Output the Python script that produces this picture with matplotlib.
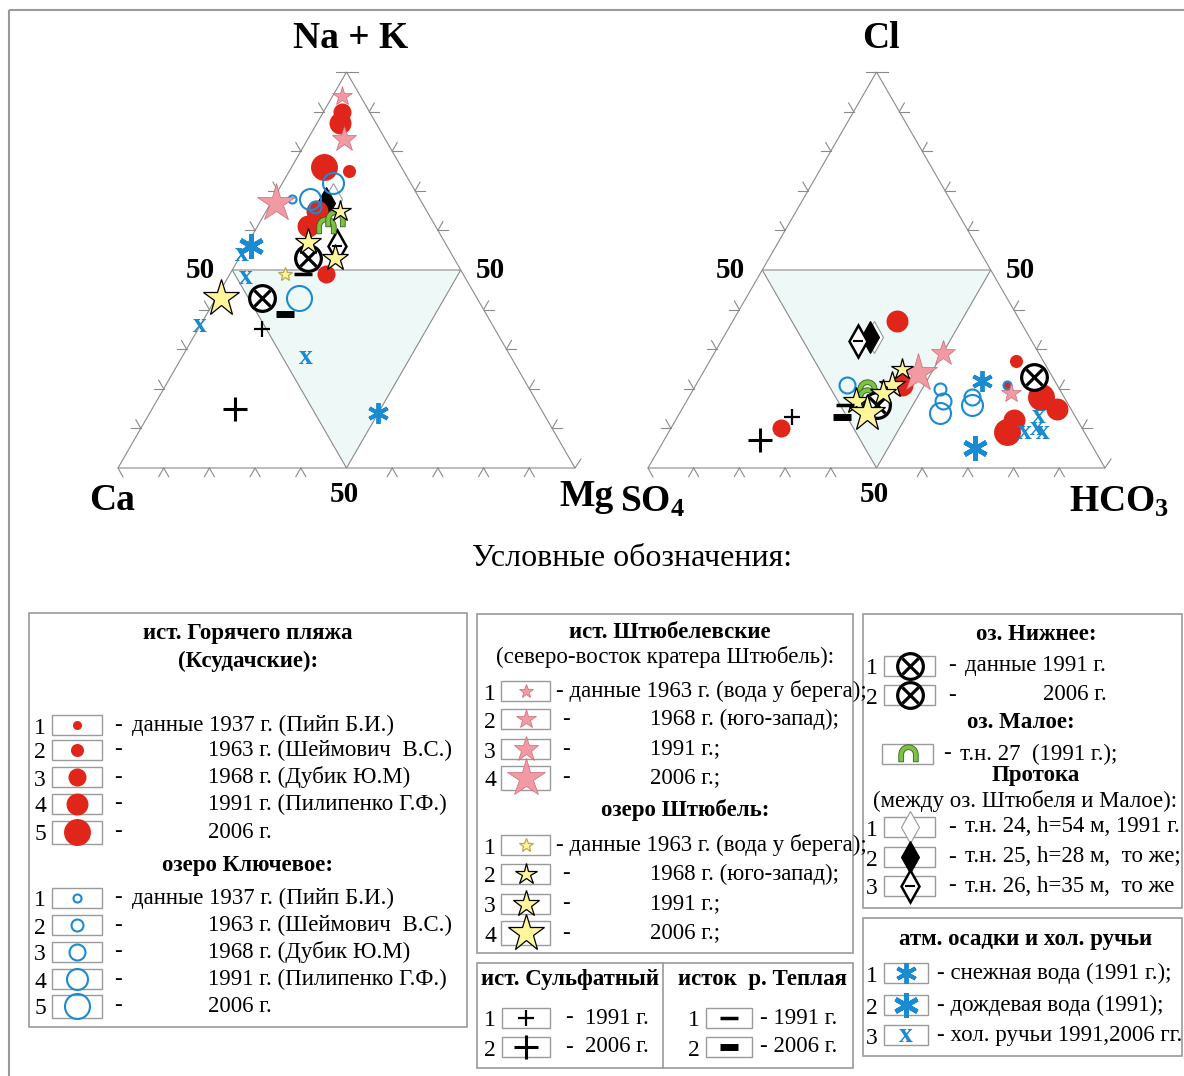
import matplotlib.pyplot as plt
import numpy as np
from matplotlib.path import Path
from matplotlib.patches import Polygon, Rectangle

plt.rcParams['font.family'] = ['Liberation Serif', 'DejaVu Serif']
plt.rcParams['mathtext.fontset'] = 'custom'
plt.rcParams['mathtext.rm'] = 'Liberation Serif:bold'

# ---------------- data (% eq) ----------------
# cations: Na+K (top), Mg (right), Ca = 100 - rest
# anions:  Cl (top), HCO3 (right), SO4 = 100 - rest
# year index for sized symbols: 0..4 -> 1937, 1963, 1968, 1991, 2006

# ист. Горячего пляжа
hot_nak = [75, 90, 87, 76, 65, 61, 49]
hot_mg = [13, 4, 5, 7, 11, 11, 21]
hot_yr_c = [1, 2, 3, 4, 3, 3, 2]
hot_cl = [37, 27, 21, 18, 15, 12, 9, 10, 21]
hot_hco3 = [36, 67, 68, 77, 82, 74, 74, 24, 45]
hot_yr_a = [3, 1, 0, 4, 3, 3, 4, 2, 3]

# озеро Ключевое
kl_nak = [68, 68, 66, 72, 43]
kl_mg = [4, 8, 10, 11, 18]
kl_yr_c = [0, 3, 1, 3, 4]
kl_cl = [21, 20, 17, 14, 18, 16, 21]
kl_hco3 = [33, 54, 56, 57, 62, 63, 68]
kl_yr_a = [2, 1, 2, 3, 2, 3, 0]

# ист. Штюбелевские (1963, 1968, 1991, 2006 -> 0..3)
shs_nak = [94, 83, 67]
shs_mg = [2, 8, 1]
shs_yr_c = [1, 2, 3]
shs_cl = [29, 24, 19]
shs_hco3 = [50, 47, 70]
shs_yr_a = [2, 3, 1]

# озеро Штюбель
shl_nak = [49, 65, 57, 53, 43]
shl_mg = [12, 16, 13, 21, 1]
shl_yr_c = [0, 1, 2, 2, 3]
shl_cl = [25, 21, 19, 17, 14]
shl_hco3 = [43, 43, 42, 37, 41]
shl_yr_a = [1, 2, 2, 2, 3]

# оз. Нижнее (1991, 2006)
low_nak = [53, 43]
low_mg = [15, 10]
low_cl = [23, 16]
low_hco3 = [73, 42]

# оз. Малое, т.н. 27
mal_nak = [61, 63]
mal_mg = [15, 16]
mal_cl = [20, 18]
mal_hco3 = [38, 39]

# Протока, т.н. 24, 25, 26
pr_nak = [68, 67, 56]
pr_mg = [13, 12, 20]
pr_cl = [33, 33, 32]
pr_hco3 = [33, 32, 30]

# ист. Сульфатный (1991, 2006)
sul_nak = [35, 15]
sul_mg = [14, 18]
sul_cl = [13, 7]
sul_hco3 = [25, 21]

# исток р. Теплая (1991, 2006)
tep_nak = [49, 39]
tep_mg = [16, 17]
tep_cl = [16, 13]
tep_hco3 = [35, 36]

# атм. осадки: снег, дождь
atm_nak = [14, 56]
atm_mg = [50, 1]
atm_cl = [22, 5]
atm_hco3 = [62, 69]

# хол. ручьи
cold_nak = [54, 48, 36, 28]
cold_mg = [0, 4, 0, 27]
cold_cl = [13, 10, 9, 9]
cold_hco3 = [79, 80, 82, 78]

# ---------------- styles ----------------
RED = '#e0251b'
BLUE = '#1a8bd2'
PINK = '#f29aa3'
YEL = '#fff69a'
GREEN = '#7cc142'
LINE = '#8a8a8a'

red_ms = [6.5, 9.4, 13, 15.8, 19.4]
blue_ms = [5.8, 8.6, 11.5, 15.1, 18]
pink_ms = [10, 14.4, 18.7, 28.8]
yel_ms = [10, 16, 20, 28]

theta = np.linspace(0, np.pi, 16)
arch = np.vstack([np.c_[np.cos(theta), np.sin(theta)],
                  [[-1, -0.75], [-0.5, -0.75], [-0.5, 0]],
                  np.c_[0.5 * np.cos(theta[::-1]), 0.5 * np.sin(theta[::-1])],
                  [[0.5, -0.75], [1, -0.75], [1, 0]]])
ARCH = Path(arch, closed=True)

fig = plt.figure(figsize=(11.84, 10.76), dpi=100)
ax = fig.add_axes([0, 0, 1, 1])
ax.set_xlim(0, 1184)
ax.set_ylim(1076, 0)
ax.axis('off')

W, H, BASE = 457, 396, 468
LX, RX = 118, 648


def tern(x0, top, right):
    top = np.asarray(top, float)
    right = np.asarray(right, float)
    return x0 + W * (right + top / 2) / 100, BASE - H * top / 100


def draw_tri(x0):
    a = np.array([x0, BASE]); b = np.array([x0 + W, BASE]); c = np.array([x0 + W / 2, BASE - H])
    ml, mr, mb = (a + c) / 2, (b + c) / 2, (a + b) / 2
    ax.add_patch(Polygon([ml, mr, mb], closed=True, fc='#eef8f7', ec=LINE, lw=0.8, zorder=0))
    ax.add_patch(Polygon([a, b, c], closed=True, fill=False, ec=LINE, lw=0.8, zorder=1))
    L = 10
    s, k = 0.5, 0.866
    for t in np.arange(0.1, 0.95, 0.1):
        if abs(t - 0.5) < 1e-6:
            continue
        p = a + (b - a) * t
        for d in [(-s, k), (s, k)]:
            ax.plot([p[0], p[0] + L * d[0]], [p[1], p[1] + L * d[1]], color=LINE, lw=0.8)
        p = a + (c - a) * t
        for d in [(-1, 0), (-s, -k)]:
            ax.plot([p[0], p[0] + L * d[0]], [p[1], p[1] + L * d[1]], color=LINE, lw=0.8)
        p = b + (c - b) * t
        for d in [(1, 0), (s, -k)]:
            ax.plot([p[0], p[0] + L * d[0]], [p[1], p[1] + L * d[1]], color=LINE, lw=0.8)
    ax.plot([c[0] - 11, c[0] + 11], [c[1], c[1]], color=LINE, lw=0.8)
    ax.plot([a[0], a[0] + 5], [a[1], a[1] + 9], color=LINE, lw=0.8)
    ax.plot([b[0], b[0] + 6], [b[1], b[1] - 9], color=LINE, lw=0.8)
    return ml, mr, mb


# ---------------- symbol painters ----------------
def m_red(x, y, i):
    ax.plot(x, y, 'o', ms=red_ms[i], mfc=RED, mec=RED, mew=0, zorder=3)


def m_blue(x, y, i):
    ax.plot(x, y, 'o', ms=blue_ms[i], mfc='none', mec=BLUE, mew=1.5, zorder=4)


def m_pink(x, y, i):
    ax.plot(x, y, '*', ms=pink_ms[i], mfc=PINK, mec='#c96b78', mew=0.5, zorder=5)


def m_yel(x, y, i):
    ec = '#b5a85a' if i == 0 else 'black'
    ax.plot(x, y, '*', ms=yel_ms[i], mfc=YEL, mec=ec, mew=0.9, zorder=8.5)


def m_low(x, y, i=0):
    ax.plot(x, y, 'o', ms=18.5, mfc='white', mec='black', mew=2.3, zorder=8)
    ax.plot(x, y, 'x', ms=11, mec='black', mew=2.3, zorder=8)


def m_mal(x, y, i=0):
    ax.plot(x, y, marker=ARCH, ms=14, mfc=GREEN, mec='#3a5a20', mew=0.6, ls='none', zorder=7)


def m_pr(x, y, i):
    if i == 0:
        ax.plot(x, y, 'd', ms=16, mfc='white', mec='#999999', mew=0.8, zorder=2.5)
    elif i == 1:
        ax.plot(x, y, 'd', ms=16, mfc='black', mec='black', mew=0.8, zorder=2.5)
    else:
        ax.plot(x, y, 'd', ms=16, mfc='white', mec='black', mew=1.8, zorder=2.5)
        ax.plot(x, y, '_', ms=7, mec='black', mew=1.5, zorder=2.5)


def m_sul(x, y, i):
    ax.plot(x, y, '+', ms=[12, 17][i], mec='black', mew=[1.6, 2.2][i], zorder=9)


def m_tep(x, y, i):
    ax.plot(x, y, '_', ms=13, mec='black', mew=[2.5, 5][i], zorder=9, solid_capstyle='butt')


def m_atm(x, y, i):
    ax.plot(x, y, marker=(6, 2, 0), ms=[15, 18][i], mec=BLUE, mew=[2.8, 3.4][i], zorder=9)


def m_cold(x, y, i=0):
    ax.text(x, y, 'x', color=BLUE, fontsize=20, fontweight='bold', ha='center', va='center', zorder=9)


# ---------------- triangles ----------------
for x0, lab_top in [(LX, 'Na + K'), (RX, 'Cl')]:
    ml, mr, mb = draw_tri(x0)
    ax.text(ml[0] - 32, ml[1] + 1, '50', fontsize=21, fontweight='bold', ha='center', va='center')
    ax.text(mr[0] + 30, mr[1] + 1, '50', fontsize=21, fontweight='bold', ha='center', va='center')
    ax.text(mb[0] - 2, mb[1] + 27, '50', fontsize=21, fontweight='bold', ha='center', va='center')
    ax.text(x0 + W / 2 + 4, 38, lab_top, fontsize=27, fontweight='bold', ha='center', va='center')

ax.text(112, 500, 'Ca', fontsize=27, fontweight='bold', ha='center', va='center')
ax.text(586, 497, 'Mg', fontsize=27, fontweight='bold', ha='center', va='center')
ax.text(652, 502, r'$\mathrm{SO_4}$', fontsize=27, ha='center', va='center')
ax.text(1119, 502, r'$\mathrm{HCO_3}$', fontsize=27, ha='center', va='center')

# cations
for x, y, i in zip(*tern(LX, hot_nak, hot_mg), hot_yr_c):
    m_red(x, y, i)
for x, y, i in zip(*tern(LX, kl_nak, kl_mg), kl_yr_c):
    m_blue(x, y, i)
for x, y, i in zip(*tern(LX, shs_nak, shs_mg), shs_yr_c):
    m_pink(x, y, i)
for x, y, i in zip(*tern(LX, pr_nak, pr_mg), range(3)):
    m_pr(x, y, i)
for x, y, i in zip(*tern(LX, shl_nak, shl_mg), shl_yr_c):
    m_yel(x, y, i)
for x, y in zip(*tern(LX, mal_nak, mal_mg)):
    m_mal(x, y)
for x, y in zip(*tern(LX, low_nak, low_mg)):
    m_low(x, y)
for x, y, i in zip(*tern(LX, sul_nak, sul_mg), range(2)):
    m_sul(x, y, i)
for x, y, i in zip(*tern(LX, tep_nak, tep_mg), range(2)):
    m_tep(x, y, i)
for x, y, i in zip(*tern(LX, atm_nak, atm_mg), range(2)):
    m_atm(x, y, i)
for x, y in zip(*tern(LX, cold_nak, cold_mg)):
    m_cold(x, y)

# anions
for x, y, i in zip(*tern(RX, hot_cl, hot_hco3), hot_yr_a):
    m_red(x, y, i)
for x, y, i in zip(*tern(RX, kl_cl, kl_hco3), kl_yr_a):
    m_blue(x, y, i)
for x, y, i in zip(*tern(RX, shs_cl, shs_hco3), shs_yr_a):
    m_pink(x, y, i)
for x, y, i in zip(*tern(RX, pr_cl, pr_hco3), range(3)):
    m_pr(x, y, i)
for x, y, i in zip(*tern(RX, shl_cl, shl_hco3), shl_yr_a):
    m_yel(x, y, i)
for x, y in zip(*tern(RX, mal_cl, mal_hco3)):
    m_mal(x, y)
for x, y in zip(*tern(RX, low_cl, low_hco3)):
    m_low(x, y)
for x, y, i in zip(*tern(RX, sul_cl, sul_hco3), range(2)):
    m_sul(x, y, i)
for x, y, i in zip(*tern(RX, tep_cl, tep_hco3), range(2)):
    m_tep(x, y, i)
for x, y, i in zip(*tern(RX, atm_cl, atm_hco3), range(2)):
    m_atm(x, y, i)
for x, y in zip(*tern(RX, cold_cl, cold_hco3)):
    m_cold(x, y)

# ---------------- legend ----------------
ax.text(632, 558, 'Условные обозначения:', fontsize=23, ha='center', va='center')

FS = 16.5
BFS = 16.5


def frame(x0, y0, x1, y1):
    ax.add_patch(Rectangle((x0, y0), x1 - x0, y1 - y0, fill=False, ec='#9a9a9a', lw=1.2))


def t(x, y, s, bold=False, ha='left', size=None):
    ax.text(x, y, s, fontsize=size or (BFS if bold else FS), fontweight='bold' if bold else 'normal',
            ha=ha, va='center')


def row(num, nx, y, bx0, bx1, painter, i, dash_x, text_x, text, h=20):
    if num:
        t(nx, y + 3, num, size=17, ha='center')
    ax.add_patch(Rectangle((bx0, y - h / 2), bx1 - bx0, h, fill=False, ec='#9a9a9a', lw=1))
    painter((bx0 + bx1) / 2, y, i)
    if dash_x is not None:
        t(dash_x, y, '-')
    t(text_x, y, text)


frame(29, 613, 467, 1027)
t(248, 633, 'ист. Горячего пляжа', bold=True, ha='center')
t(248, 661, '(Ксудачские):', bold=True, ha='center')
texts5 = ['данные 1937 г. (Пийп Б.И.)', '1963 г. (Шеймович  В.С.)', '1968 г. (Дубик Ю.М)',
          '1991 г. (Пилипенко Г.Ф.)', '2006 г.']
for k, y in enumerate([725, 750, 777, 804, 832]):
    row(str(k + 1), 40, y, 52, 102, m_red, k, 114, 132 if k == 0 else 208, texts5[k], h=20 if k < 4 else 23)
t(248, 865, 'озеро Ключевое:', bold=True, ha='center')
for k, y in enumerate([898, 925, 952, 979, 1006]):
    row(str(k + 1), 40, y, 52, 102, m_blue, k, 114, 132 if k == 0 else 208, texts5[k], h=20 if k < 4 else 23)

frame(477, 614, 853, 953)
t(670, 632, 'ист. Штюбелевские', bold=True, ha='center')
t(665, 657, '(северо-восток кратера Штюбель):', ha='center')
texts4 = ['- данные 1963 г. (вода у берега);', '1968 г. (юго-запад);', '1991 г.;', '2006 г.;']
for k, y in enumerate([691, 719, 749, 778]):
    row(str(k + 1), 490, y, 501, 550, m_pink, k, None if k == 0 else 562, 556 if k == 0 else 650, texts4[k],
        h=20 if k < 3 else 24)
t(685, 810, 'озеро Штюбель:', bold=True, ha='center')
for k, y in enumerate([845, 874, 904, 933]):
    row(str(k + 1), 490, y, 501, 550, m_yel, k, None if k == 0 else 562, 556 if k == 0 else 650, texts4[k],
        h=20 if k < 3 else 24)

frame(477, 963, 853, 1068)
ax.plot([663, 663], [963, 1068], color='#9a9a9a', lw=1.2)
t(570, 980, 'ист. Сульфатный', bold=True, ha='center')
t(762, 980, 'исток  р. Теплая', bold=True, ha='center')
for k, y in enumerate([1018, 1047]):
    row(str(k + 1), 490, y, 502, 550, m_sul, k, 565, 585, ['1991 г.', '2006 г.'][k])
    row(str(k + 1), 694, y, 706, 752, m_tep, k, None, 760, ['- 1991 г.', '- 2006 г.'][k])

frame(863, 614, 1182, 908)
t(1036, 635, 'оз. Нижнее:', bold=True, ha='center')
row('1', 872, 666, 884, 935, m_low, 0, 948, 965, 'данные 1991 г.')
row('2', 872, 695, 884, 935, m_low, 1, 948, 1043, '2006 г.')
t(1021, 722, 'оз. Малое:', bold=True, ha='center')
row('', 872, 754, 882, 933, m_mal, 0, 943, 960, 'т.н. 27  (1991 г.);')
t(1036, 775, 'Протока', bold=True, ha='center')
t(873, 801, '(между оз. Штюбеля и Малое):')
texts_pr = ['т.н. 24, h=54 м, 1991 г.', 'т.н. 25, h=28 м,  то же;', 'т.н. 26, h=35 м,  то же']
for k, y in enumerate([827, 857, 886]):
    row(str(k + 1), 872, y, 884, 935, m_pr, k, 948, 965, texts_pr[k])

frame(863, 918, 1182, 1056)
t(1026, 939, 'атм. осадки и хол. ручьи', bold=True, ha='center')
texts_atm = ['- снежная вода (1991 г.);', '- дождевая вода (1991);', '- хол. ручьи 1991,2006 гг.']
for k, y in enumerate([973, 1005, 1035]):
    row(str(k + 1), 872, y, 884, 928, m_atm if k < 2 else m_cold, min(k, 1), None, 937, texts_atm[k])

# outer frame
ax.add_patch(Rectangle((9, 10), 1200, 1100, fill=False, ec='#9a9a9a', lw=1.5))

fig.savefig('out.png', dpi=100)
